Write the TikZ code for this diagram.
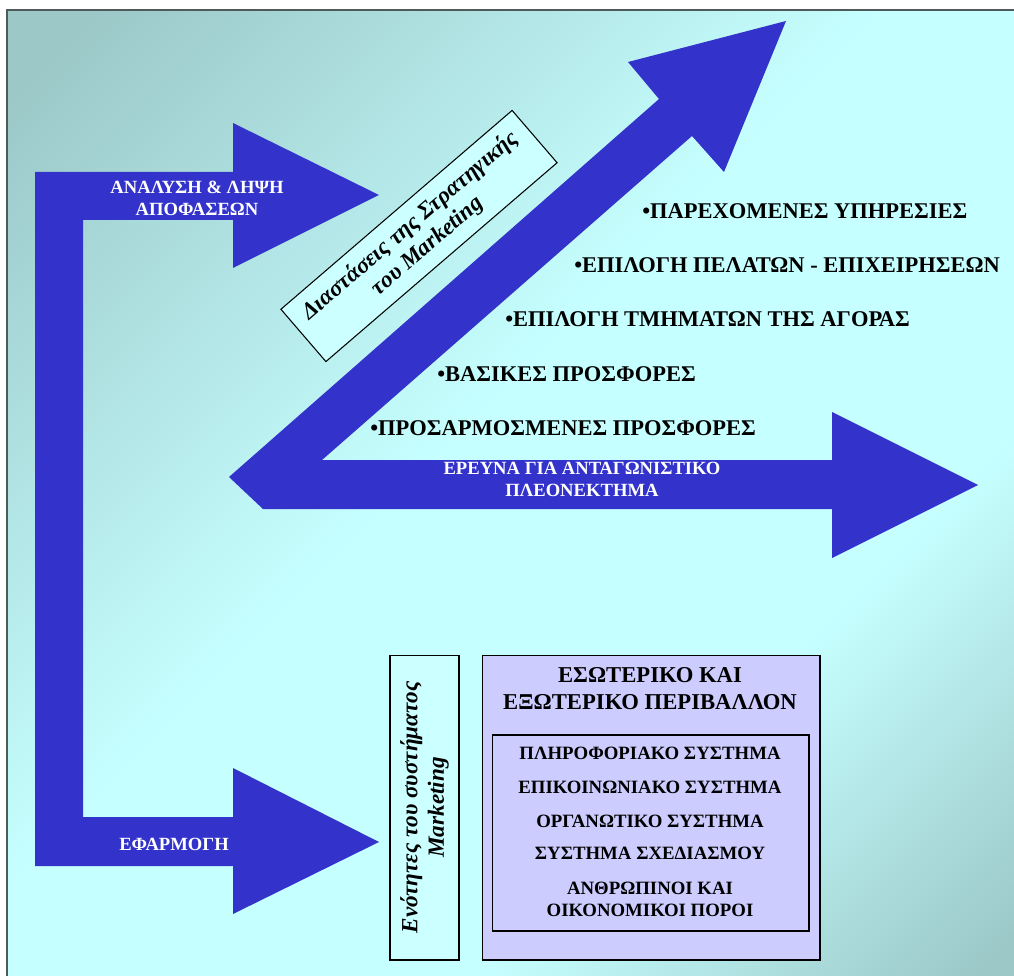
\documentclass[tikz,border=0pt]{standalone}
\usepackage{fontspec}
\setmainfont{Liberation Serif}
\usetikzlibrary{positioning}

\definecolor{arrowblue}{HTML}{3333CC}
\definecolor{bgdark}{HTML}{9CC8C8}
\definecolor{bglight}{HTML}{C6FFFF}
\definecolor{boxcyan}{HTML}{CCFFFF}
\definecolor{boxlilac}{HTML}{CCCCFF}
\definecolor{framegray}{HTML}{505A5A}
\pgfdeclarehorizontalshading{backdrop}{100bp}{color(0bp)=(bgdark); color(18bp)=(bgdark); color(46bp)=(bglight); color(66bp)=(bglight); color(84bp)=(bgdark); color(100bp)=(bgdark)}

\begin{document}
\begin{tikzpicture}[
    x=0.02cm, y=-0.02cm,
    bigarrow/.style={fill=arrowblue, draw=none},
    onarrow/.style={text=white, font=\bfseries\fontsize{10.6}{12.5}\selectfont, align=center, inner sep=0pt},
    bullet/.style={font=\bfseries\fontsize{12.8}{14}\selectfont, anchor=west, inner sep=0pt},
    caption/.style={font=\bfseries\itshape\fontsize{13.2}{15}\selectfont, align=center, inner sep=0pt},
    panel/.style={draw, line width=0.6pt},
    listline/.style={font=\bfseries\fontsize{10.7}{12.5}\selectfont, align=center, inner sep=0pt}
]
    \useasboundingbox (0,0) rectangle (1014,976);
    \fill[white] (0,0) rectangle (1014,976);
    \shade[shading=backdrop, shading angle=-45] (7,10) rectangle (1014,976);
    \draw[framegray, line width=1.3pt] (7,980) |- (1018,10);

    % bracket arrow on the left
    \fill[bigarrow] (35,172) -- (233,172) -- (233,123) -- (379,195) -- (233,268) -- (233,220)
        -- (83,220) -- (83,817) -- (233,817) -- (233,768) -- (379,842) -- (233,914)
        -- (233,866) -- (35,866) -- cycle;
    % the bent arrow
    \fill[bigarrow] (229,477) -- (659,99) -- (628,62) -- (786,21) -- (724,172) -- (692,136)
        -- (322,460) -- (832,460) -- (832,412) -- (978,485) -- (832,558) -- (832,509)
        -- (263,509) -- cycle;

    \node[onarrow] (analysis) at (197,198) {ΑΝΑΛΥΣΗ \& ΛΗΨΗ\\ΑΠΟΦΑΣΕΩΝ};
    \node[onarrow] (apply)    at (174,844) {ΕΦΑΡΜΟΓΗ};
    \node[onarrow] (research) at (582,479) {ΕΡΕΥΝΑ ΓΙΑ ΑΝΤΑΓΩΝΙΣΤΙΚΟ\\ΠΛΕΟΝΕΚΤΗΜΑ};

    \node[bullet] (services) at (642,211) {•ΠΑΡΕΧΟΜΕΝΕΣ ΥΠΗΡΕΣΙΕΣ};
    \node[bullet] (clients)  at (574,265) {•ΕΠΙΛΟΓΗ ΠΕΛΑΤΩΝ - ΕΠΙΧΕΙΡΗΣΕΩΝ};
    \node[bullet] (segments) at (505,319) {•ΕΠΙΛΟΓΗ ΤΜΗΜΑΤΩΝ ΤΗΣ ΑΓΟΡΑΣ};
    \node[bullet] (basic)    at (437,374) {•ΒΑΣΙΚΕΣ ΠΡΟΣΦΟΡΕΣ};
    \node[bullet] (custom)   at (370,428) {•ΠΡΟΣΑΡΜΟΣΜΕΝΕΣ ΠΡΟΣΦΟΡΕΣ};

    \node[panel, fill=boxcyan, caption, rotate=40.7, minimum width=6.1cm, minimum height=1.38cm]
        (dims) at (419,236) {Διαστάσεις της Στρατηγικής\\του Marketing};
    \node[panel, fill=boxcyan, caption, rotate=90, minimum width=6.1cm, minimum height=1.38cm]
        (units) at (424.5,807.5) {Ενότητες του συστήματος\\Marketing};

    % environment panel
    \node[panel, fill=boxlilac, minimum width=6.76cm, minimum height=6.1cm] (env) at (651,807.5) {};
    \node[panel, minimum width=6.34cm, minimum height=3.92cm] (systems) at (650.5,833) {};
    \node[listline, font=\bfseries\fontsize{12.9}{15.3}\selectfont] (envtitle) at (650,688.5)
        {ΕΣΩΤΕΡΙΚΟ ΚΑΙ\\ΕΞΩΤΕΡΙΚΟ ΠΕΡΙΒΑΛΛΟΝ};
    \node[listline] (info)   at (650,753) {ΠΛΗΡΟΦΟΡΙΑΚΟ ΣΥΣΤΗΜΑ};
    \node[listline] (comm)   at (650,787) {ΕΠΙΚΟΙΝΩΝΙΑΚΟ ΣΥΣΤΗΜΑ};
    \node[listline] (org)    at (650,821) {ΟΡΓΑΝΩΤΙΚΟ ΣΥΣΤΗΜΑ};
    \node[listline] (plan)   at (650,853) {ΣΥΣΤΗΜΑ ΣΧΕΔΙΑΣΜΟΥ};
    \node[listline] (means)  at (650,899) {ΑΝΘΡΩΠΙΝΟΙ ΚΑΙ\\ΟΙΚΟΝΟΜΙΚΟΙ ΠΟΡΟΙ};
\end{tikzpicture}
\end{document}
